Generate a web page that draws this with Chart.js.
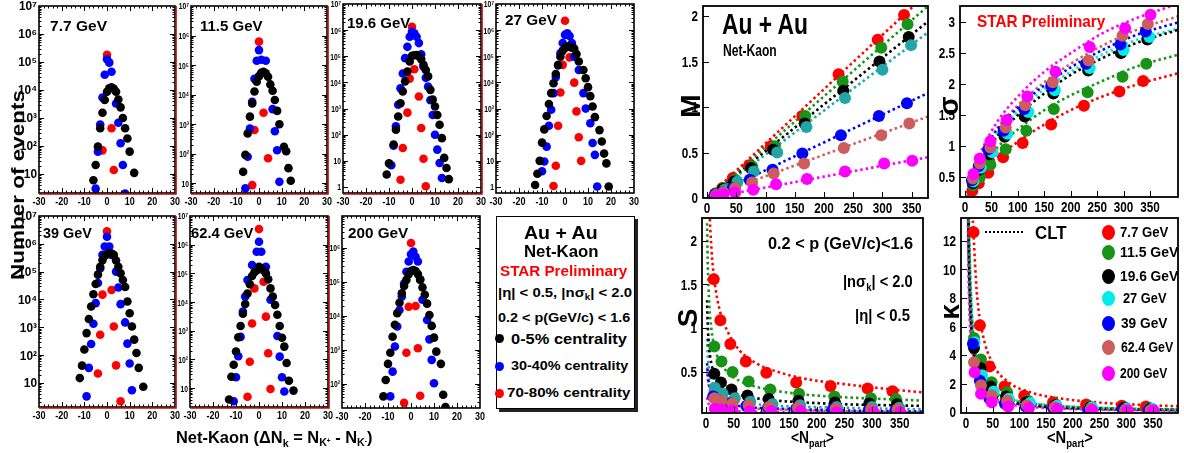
<!DOCTYPE html>
<html><head><meta charset="utf-8">
<script src="https://cdn.jsdelivr.net/npm/chart.js@4.4.1/dist/chart.umd.min.js"></script>
<style>
html,body{margin:0;padding:0;background:#fff;}
#wrap{position:relative;width:1184px;height:453px;overflow:hidden;background:#fff;font-family:'Liberation Sans',Arial,Helvetica,sans-serif;}
.pc{position:absolute;}
.t{position:absolute;white-space:nowrap;font-weight:bold;color:#000;line-height:1;}
.t sub{font-size:65%;vertical-align:-0.35em;line-height:0;}
.t sup{font-size:60%;vertical-align:0.5em;line-height:0;}
.dot{position:absolute;border-radius:50%;}
#lbox{position:absolute;left:496px;top:216px;width:137px;height:191px;border:1.5px solid #000;box-shadow:3px 3px 0 #222;background:#fff;}
</style></head><body><div id="wrap"><div id="lbox"></div></div>
<script>
// ---------------- labels / categories ----------------
const energies = ['7.7 GeV','11.5 GeV','19.6 GeV','27 GeV','39 GeV','62.4 GeV','200 GeV'];
const centralities = ['0-5% centrality','30-40% centrality','70-80% centrality'];
const distTicksX = [-30,-20,-10,0,10,20,30];
const logTicks = [1,10,100,1e3,1e4,1e5,1e6,1e7];
const npartTicks = [0,50,100,150,200,250,300,350];
const mTicks = [0,0.5,1,1.5,2];
const sigmaTicks = [0.5,1,1.5,2,2.5,3];
const sTicks = [0.5,1,1.5,2];
const kTicks = [0,2,4,6,8,10,12];

// ---------------- net-kaon distributions: [ΔN_k, events] ----------------
const nk77_c0 = [[-6,6],[-5,21],[-4,95],[-3,430],[-2,1550],[-1,4400],[0,8700],[1,11500],[2,12500],[3,11000],[4,8700],[5,4600],[6,2400],[7,1000],[8,430],[9,185],[10,63],[12,11]];
const nk77_c30 = [[-5,3],[-4,63],[-3,590],[-2,5400],[-1,35000],[0,125000],[1,95000],[2,45000],[4,3300],[5,680],[6,125],[7,21],[8,2]];
const nk77_c70 = [[-2,70],[0,180000],[2,430],[3,14]];

const nk115_c0 = [[-7,24],[-6,90],[-5,480],[-4,1780],[-3,5000],[-2,12600],[-1,27000],[0,42000],[1,55000],[2,59000],[3,52000],[4,40000],[5,22000],[6,13500],[7,6500],[8,2800],[9,980],[11,170],[12,120],[13,32],[14,12]];
const nk115_c30 = [[-6,6.6],[-5,78],[-4,700],[-3,5700],[-2,34000],[-1,140000],[0,320000],[1,150000],[3,140000],[6,3200],[7,570],[8,130],[9,11]];
const nk115_c70 = [[-3,8.5],[-2,630],[0,620000],[2,2400],[4,69]];

const nk196_c0 = [[-11,3],[-10,8],[-8,42],[-7,155],[-6,500],[-5,1600],[-4,4500],[-3,11000],[-2,26000],[-1,63000],[0,105000],[1,110000],[2,112000],[3,100000],[4,78000],[5,47000],[6,30000],[7,17000],[8,5200],[9,2200],[10,1200],[11,570],[12,240],[13,74],[14,13],[15,5.3],[16,2]];
const nk196_c30 = [[-9,6.8],[-8,38],[-7,210],[-6,1400],[-5,6000],[-4,22000],[-3,85000],[-2,230000],[-1,560000],[0,870000],[1,750000],[2,560000],[3,320000],[4,120000],[5,40000],[6,15000],[7,6900],[8,2100],[9,570],[10,100],[11,27],[12,8.3],[13,2.2]];
const nk196_c70 = [[-5,1.9],[-4,31],[-2,700],[-1,14000],[0,1350000],[1,32000],[3,2900],[4,180],[5,12],[6,1.07]];

const nk27_c0 = [[-13,1.2],[-12,3.2],[-11,10],[-10,50],[-9,160],[-8,520],[-7,1500],[-6,3900],[-5,9300],[-4,21000],[-3,46000],[-2,97000],[-1,165000],[0,210000],[1,235000],[2,230000],[3,215000],[4,200000],[5,123000],[6,63000],[8,30000],[9,14500],[10,6600],[11,3000],[12,1200],[13,470],[15,150],[16,55],[17,19],[18,8],[19,1.05]];
const nk27_c30 = [[-10,4],[-9,9.4],[-8,35],[-7,220],[-6,900],[-5,3900],[-4,16000],[-3,46000],[-2,130000],[-1,320000],[0,660000],[1,760000],[2,600000],[3,320000],[4,97000],[6,30000],[8,3900],[9,1000],[11,275],[12,48],[13,17],[14,1.05]];
const nk27_c70 = [[-5,1.1],[-4,6.5],[-3,220],[-2,4100],[-1,47000],[0,2300000],[2,91000],[4,9800],[5,780],[6,80],[7,10]];

const nk39_c0 = [[-12,15],[-11,42],[-10,160],[-9,620],[-8,2000],[-7,5600],[-6,15500],[-5,36000],[-4,78000],[-3,150000],[-2,260000],[-1,370000],[0,420000],[1,460000],[2,450000],[3,400000],[4,250000],[5,150000],[6,87000],[7,50000],[8,28000],[9,8500],[10,3200],[11,1070],[12,360],[13,120],[14,35],[16,7.3]];
const nk39_c30 = [[-9,3.3],[-8,35],[-7,250],[-6,1350],[-5,7400],[-4,39000],[-3,130000],[-2,400000],[-1,800000],[0,1800000],[1,800000],[2,400000],[4,100000],[5,27000],[6,6800],[8,1500],[9,260],[10,50],[11,5.5]];
const nk39_c70 = [[-4,22],[-3,540],[-2,15000],[0,2800000],[2,22000],[3,1070],[4,43],[6,2.2]];

const nk624_c0 = [[-13,4],[-12,25],[-11,65],[-10,190],[-9,590],[-8,1470],[-7,3900],[-6,8600],[-5,20000],[-4,42000],[-3,81000],[-2,110000],[-1,130000],[0,170000],[1,150000],[2,130000],[3,100000],[4,62000],[5,30000],[6,15500],[7,7900],[8,3600],[9,1470],[10,570],[11,280],[12,75],[13,18],[15,8.2]];
const nk624_c30 = [[-11,3.5],[-10,24],[-9,130],[-8,610],[-7,4700],[-6,15500],[-5,59000],[-3,195000],[-1,570000],[0,1260000],[1,570000],[3,170000],[5,12000],[8,660],[9,125],[10,24],[11,7.6]];
const nk624_c70 = [[-5,5],[-4,83],[-3,1800],[-2,30000],[0,3500000],[2,51000],[3,3100],[4,165],[5,9.3]];

const nk200_c0 = [[-12,43],[-11,130],[-10,390],[-9,830],[-8,2450],[-7,5500],[-6,12000],[-5,24500],[-4,46000],[-3,76000],[-2,115000],[-1,170000],[0,210000],[1,225000],[2,210000],[3,170000],[4,115000],[5,69000],[6,42000],[7,23000],[8,10700],[9,5100],[10,2300],[11,890],[13,390],[14,48],[15,21]];
const nk200_c30 = [[-9,43],[-8,230],[-7,1260],[-6,4900],[-5,15000],[-4,37000],[-3,90000],[-2,200000],[-1,400000],[0,650000],[1,780000],[2,550000],[3,400000],[4,120000],[5,30000],[7,7600],[8,2050],[9,510],[10,105]];
const nk200_c70 = [[-3,28],[-2,830],[-1,18600],[0,1400000],[2,19500],[3,1120],[4,45]];

// ---------------- moments vs <Npart> (central -> peripheral), energy order as in `energies` ----------------
const npart = [
  [337,292,225,163,109,72,44,26,14],
  [343,298,232,168,116,77,48,28,15],
  [345,295,233,167,113,75,46,27,15],
  [349,300,236,170,120,80,52,30,16],
  [342,294,229,163,112,73,44,26,13],
  [346,298,234,166,114,77,48,28,15],
  [351,303,236,171,118,79,48,28,16]
];
const meanM = [
  [2.01,1.74,1.36,0.90,0.57,0.36,0.22,0.11,0.05],
  [1.91,1.65,1.28,0.90,0.57,0.35,0.20,0.11,0.05],
  [1.77,1.50,1.18,0.82,0.53,0.33,0.18,0.10,0.04],
  [1.68,1.41,1.10,0.78,0.50,0.29,0.18,0.09,0.04],
  [1.04,0.90,0.69,0.49,0.31,0.20,0.11,0.06,0.03],
  [0.82,0.69,0.55,0.38,0.27,0.17,0.11,0.06,0.03],
  [0.41,0.38,0.29,0.21,0.15,0.09,0.06,0.04,0.02]
];
const sigmaV = [
  [2.05,1.88,1.65,1.35,1.05,0.82,0.57,0.40,0.28],
  [2.33,2.12,1.87,1.60,1.25,0.95,0.70,0.50,0.37],
  [2.72,2.50,2.22,1.85,1.48,1.15,0.87,0.62,0.40],
  [2.76,2.55,2.26,1.90,1.55,1.20,0.90,0.65,0.43],
  [2.85,2.64,2.33,1.97,1.60,1.25,0.95,0.68,0.45],
  [2.97,2.78,2.38,2.03,1.66,1.30,0.98,0.72,0.48],
  [3.12,2.90,2.60,2.20,1.80,1.42,1.08,0.80,0.55]
];
const skewS = [
  [0.28,0.31,0.34,0.38,0.49,0.62,0.82,1.09,1.56],
  [0.19,0.20,0.22,0.25,0.30,0.39,0.50,0.62,0.79],
  [0.13,0.14,0.15,0.17,0.19,0.23,0.30,0.38,0.48],
  [0.09,0.10,0.10,0.12,0.13,0.16,0.20,0.25,0.32],
  [0.06,0.06,0.07,0.08,0.09,0.11,0.14,0.17,0.22],
  [0.07,0.07,0.08,0.09,0.10,0.12,0.14,0.17,0.20],
  [0.04,0.04,0.04,0.05,0.05,0.05,0.06,0.07,0.08]
];
const kurtK = [
  [0.40,0.45,0.55,0.70,1.15,1.80,3.20,6.10,12.6],
  [0.30,0.33,0.40,0.55,0.80,1.40,2.10,3.70,5.20],
  [0.25,0.30,0.35,0.50,0.70,1.10,1.80,3.10,4.50],
  [0.25,0.25,0.35,0.45,0.65,0.95,1.45,2.60,4.90],
  [0.15,0.15,0.10,0.30,0.40,0.60,0.95,2.20,4.80],
  [0.15,0.15,0.25,0.35,0.50,0.80,1.20,1.90,3.50],
  [0.15,0.15,0.15,0.25,0.30,0.40,0.70,1.30,2.80]
];

// ---------------- CLT dotted curves ----------------
const fitMX = [3,380];
const fitMY = [[0.02,2.27],[0.02,2.12],[0.02,1.95],[0.01,1.83],[0.01,1.16],[0.01,0.90],[0.0,0.45]];
const fitSigX = [2,10,30,60,100,150,200,260,320,405];
const fitSigY = [
  [0.10,0.25,0.55,0.82,1.07,1.35,1.58,1.80,1.98,2.18],
  [0.12,0.30,0.65,0.97,1.27,1.58,1.82,2.05,2.27,2.48],
  [0.14,0.35,0.75,1.15,1.50,1.85,2.15,2.42,2.65,2.88],
  [0.15,0.37,0.78,1.20,1.56,1.92,2.20,2.48,2.70,2.90],
  [0.16,0.38,0.82,1.25,1.62,1.98,2.27,2.55,2.78,3.00],
  [0.16,0.40,0.85,1.28,1.66,2.03,2.33,2.62,2.86,3.10],
  [0.17,0.42,0.90,1.38,1.80,2.20,2.50,2.82,3.05,3.30]
];
const fitSX = [2,3,6,10,15,25,40,60,90,130,180,250,320,400];
const fitSY = [
  [4.2,3.5,2.45,1.9,1.56,1.2,0.95,0.75,0.6,0.5,0.42,0.36,0.31,0.26],
  [2.2,1.8,1.27,0.98,0.79,0.62,0.49,0.40,0.33,0.28,0.24,0.21,0.19,0.17],
  [1.32,1.07,0.76,0.59,0.48,0.37,0.29,0.24,0.20,0.17,0.15,0.13,0.12,0.11],
  [0.88,0.72,0.50,0.39,0.32,0.25,0.20,0.16,0.13,0.11,0.10,0.09,0.08,0.07],
  [0.60,0.49,0.35,0.27,0.22,0.17,0.14,0.11,0.09,0.08,0.07,0.06,0.05,0.05],
  [0.55,0.45,0.31,0.25,0.20,0.16,0.13,0.10,0.08,0.07,0.06,0.05,0.045,0.04],
  [0.21,0.17,0.12,0.10,0.08,0.065,0.055,0.05,0.045,0.04,0.04,0.035,0.035,0.03]
];
const fitKX = [3,5,7,10,14,20,30,50,80,120,180,260,340,400];
const fitKY = [
  [55,33,24,16.5,12.6,8.5,5.7,3.4,2.1,1.4,0.95,0.65,0.5,0.42],
  [25,15,10.7,7.5,5.3,3.7,2.5,1.5,0.95,0.63,0.42,0.30,0.23,0.2],
  [21,12.6,9,6.3,4.5,3.15,2.1,1.26,0.8,0.53,0.35,0.25,0.2,0.17],
  [26,15.6,11,7.8,5.6,3.9,2.6,1.56,0.98,0.65,0.44,0.3,0.24,0.2],
  [19,11.6,8.3,5.8,4.1,2.9,1.9,1.16,0.73,0.48,0.32,0.22,0.17,0.15],
  [18,10.6,7.6,5.3,3.8,2.65,1.77,1.06,0.66,0.44,0.29,0.2,0.16,0.13],
  [15,9,6.4,4.5,3.2,2.25,1.5,0.9,0.56,0.38,0.25,0.17,0.13,0.11]
];

// ---------------- styling ----------------
const FONT = "'Liberation Sans', Arial, Helvetica, sans-serif";
const centColors = ['#000000','#0000ff','#ff0000'];
const colA = ['#ff0000','#179417','#000000','#20a6a6','#0000ff','#cd5c5c','#ff00ff'];
const colB = ['#ff0000','#179417','#000000','#00ecec','#0000ff','#cd5c5c','#ff00ff'];

Chart.defaults.animation = false;
Chart.defaults.font.family = FONT;
Chart.defaults.color = '#000';

const supDigits = {'0':'⁰','1':'¹','2':'²','3':'³','4':'⁴','5':'⁵','6':'⁶','7':'⁷','8':'⁸','9':'⁹'};
function logLabel(v) {
  const e = Math.round(Math.log10(v));
  if (e === 0) return '1';
  if (e === 1) return '10';
  return '10' + String(e).split('').map(c => supDigits[c]).join('');
}

// frame, inner ticks and horizontally condensed tick labels
const frameTicks = {
  id: 'frameTicks',
  afterDatasetsDraw(chart, args, o) {
    if (!o || !o.on) return;
    const {ctx, chartArea: a} = chart;
    const xs = chart.scales.x, ys = chart.scales.y;
    ctx.save();
    ctx.strokeStyle = '#000';
    ctx.lineWidth = 1;
    ctx.beginPath();
    const doX = (vals, len) => (vals || []).forEach(v => {
      const p = Math.round(xs.getPixelForValue(v)) + 0.5;
      if (p < a.left + 1 || p > a.right - 1) return;
      ctx.moveTo(p, a.bottom); ctx.lineTo(p, a.bottom - len);
      if (o.mirror) { ctx.moveTo(p, a.top); ctx.lineTo(p, a.top + len); }
    });
    const doY = (vals, len) => (vals || []).forEach(v => {
      const p = Math.round(ys.getPixelForValue(v)) + 0.5;
      if (p < a.top + 1 || p > a.bottom - 1) return;
      ctx.moveTo(a.left, p); ctx.lineTo(a.left + len, p);
      if (o.mirror) { ctx.moveTo(a.right, p); ctx.lineTo(a.right - len, p); }
    });
    doX(o.xMaj, o.maj); doX(o.xMin, o.min); doY(o.yMaj, o.maj); doY(o.yMin, o.min);
    ctx.stroke();
    ctx.lineWidth = o.fw || 1.6;
    ctx.strokeRect(a.left, a.top, a.right - a.left, a.bottom - a.top);
    if (o.red) {
      ctx.strokeStyle = '#cc0000'; ctx.lineWidth = 1.2;
      ctx.beginPath();
      ctx.moveTo(a.right + 1.2, a.top); ctx.lineTo(a.right + 1.2, a.bottom + 1.2); ctx.lineTo(a.left, a.bottom + 1.2);
      ctx.stroke();
    }
    // condensed labels
    ctx.fillStyle = '#000';
    if (o.xLab) {
      const L = o.xLab;
      ctx.font = 'bold ' + L.size + 'px ' + FONT;
      ctx.textAlign = 'center'; ctx.textBaseline = 'top';
      L.vals.forEach(v => {
        const p = xs.getPixelForValue(v);
        ctx.save(); ctx.translate(p, a.bottom + L.pad); ctx.scale(L.sx, 1);
        ctx.fillText(L.fmt(v), 0, 0); ctx.restore();
      });
    }
    if (o.yLab) {
      const L = o.yLab;
      ctx.font = 'bold ' + L.size + 'px ' + FONT;
      ctx.textAlign = 'right'; ctx.textBaseline = 'middle';
      L.vals.forEach(v => {
        if (v < ys.min - 1e-9 || v > ys.max + 1e-9) return;
        const p = ys.getPixelForValue(v);
        ctx.save(); ctx.translate(a.left - L.pad, p + 1); ctx.scale(L.sx, 1);
        ctx.fillText(L.fmt(v), 0, 0); ctx.restore();
      });
    }
    ctx.restore();
  }
};
Chart.register(frameTicks);

const wrap = document.getElementById('wrap');

function addChart(box, yW, xH, padT, padR, config) {
  const [l, t, r, b] = box;
  const div = document.createElement('div');
  div.className = 'pc';
  div.style.left = (l - yW) + 'px';
  div.style.top = (t - padT) + 'px';
  div.style.width = ((r - l) + yW + padR) + 'px';
  div.style.height = ((b - t) + xH + padT) + 'px';
  const cv = document.createElement('canvas');
  div.appendChild(cv);
  wrap.appendChild(div);
  const o = config.options;
  o.responsive = true;
  o.maintainAspectRatio = false;
  o.animation = false;
  o.events = [];
  o.layout = {padding: {top: padT, right: padR, left: 0, bottom: 0}};
  o.scales.x.afterFit = s => { s.height = xH; };
  o.scales.y.afterFit = s => { s.width = yW; };
  return new Chart(cv, config);
}

function addText(html, x, y, o = {}) {
  const el = document.createElement('div');
  el.className = 't';
  el.innerHTML = html;
  el.style.fontSize = (o.size || 12) + 'px';
  if (o.color) el.style.color = o.color;
  wrap.appendChild(el);
  const w = el.offsetWidth, h = el.offsetHeight;
  const sx = o.width ? o.width / w : 1;
  if (o.rotate) {
    el.style.left = (x - w / 2) + 'px';
    el.style.top = (y - h / 2) + 'px';
    el.style.transformOrigin = '50% 50%';
    el.style.transform = 'rotate(-90deg) scaleX(' + sx + ')';
  } else {
    const fw = w * sx;
    const left = o.align === 'left' ? x : o.align === 'right' ? x - fw : x - fw / 2;
    el.style.left = left + 'px';
    el.style.top = (y - h / 2) + 'px';
    el.style.transformOrigin = '0 0';
    el.style.transform = 'scaleX(' + sx + ')';
  }
  return el;
}

function addDot(x, y, w, h, color) {
  const d = document.createElement('div');
  d.className = 'dot';
  d.style.left = (x - w / 2) + 'px'; d.style.top = (y - h / 2) + 'px';
  d.style.width = w + 'px'; d.style.height = h + 'px';
  d.style.background = color;
  wrap.appendChild(d);
}

const hiddenScale = (extra) => Object.assign({
  ticks: {display: false}, grid: {display: false, drawTicks: false}, border: {display: false}
}, extra);

// ---------------- distribution panels ----------------
const xMinorDist = [];
for (let v = -28; v <= 28; v += 2) if (v % 10 !== 0) xMinorDist.push(v);
const logMinor = [];
for (let d = 0; d < 7; d++) for (let m = 2; m <= 9; m++) logMinor.push(m * Math.pow(10, d));

const distPanels = [
  {name: energies[0], c: [nk77_c0, nk77_c30, nk77_c70], box: [39,6,175,193], ymin: 2.1, ymax: 1e7, yW: 39, yFont: 12.5, ysx: 0.95, red: true},
  {name: energies[1], c: [nk115_c0, nk115_c30, nk115_c70], box: [191,6,327,193], ymin: 4.6, ymax: 1e7, yW: 22, yFont: 9, ysx: 0.75, red: true},
  {name: energies[2], c: [nk196_c0, nk196_c30, nk196_c70], box: [343,4,481,193], ymin: 0.59, ymax: 1e7, yW: 22, yFont: 9, ysx: 0.75, red: true},
  {name: energies[3], c: [nk27_c0, nk27_c30, nk27_c70], box: [496,4,634,193], ymin: 0.59, ymax: 1e7, yW: 22, yFont: 9, ysx: 0.75, red: false},
  {name: energies[4], c: [nk39_c0, nk39_c30, nk39_c70], box: [39,216,175,407], ymin: 1.37, ymax: 1e7, yW: 39, yFont: 12.5, ysx: 0.95, red: true},
  {name: energies[5], c: [nk624_c0, nk624_c30, nk624_c70], box: [190,216,328,407], ymin: 2.2, ymax: 1e7, yW: 22, yFont: 9, ysx: 0.75, red: true},
  {name: energies[6], c: [nk200_c0, nk200_c30, nk200_c70], box: [342,216,480,408], ymin: 19.6, ymax: 8.7e6, yW: 22, yFont: 9, ysx: 0.75, red: false}
];

distPanels.forEach(p => {
  const datasets = p.c.map((arr, i) => ({
    label: centralities[i],
    data: arr.map(([x, y]) => ({x, y})),
    backgroundColor: centColors[i], borderColor: centColors[i],
    pointRadius: 4.3, pointBorderWidth: 0, pointHoverRadius: 0,
    order: i + 1
  }));
  addChart(p.box, p.yW, 18, 8, 9, {
    type: 'scatter',
    data: {datasets},
    options: {
      scales: {
        x: hiddenScale({type: 'linear', min: -30, max: 30}),
        y: hiddenScale({type: 'logarithmic', min: p.ymin, max: p.ymax})
      },
      plugins: {legend: {display: false}, tooltip: {enabled: false},
        frameTicks: {on: true, xMaj: distTicksX, xMin: xMinorDist, yMaj: logTicks, yMin: logMinor, maj: 5, min: 2.5, mirror: true, fw: 1.6, red: p.red,
          xLab: {vals: distTicksX, fmt: v => String(v), size: 10, sx: 0.9, pad: 4},
          yLab: {vals: logTicks, fmt: logLabel, size: p.yFont, sx: p.ysx, pad: 2}}}
    }
  });
});

// ---------------- moment panels ----------------
function momentPanel(p) {
  const datasets = [];
  energies.forEach((e, i) => {
    datasets.push({
      label: e,
      data: npart[i].map((x, j) => ({x, y: p.vals[i][j]})),
      backgroundColor: p.colors[i], borderColor: p.colors[i],
      pointRadius: 6, pointBorderWidth: 0, pointHoverRadius: 0,
      order: 7 - i
    });
    datasets.push({
      label: e + ' CLT',
      data: p.fitX.map((x, j) => ({x, y: p.fitY[i][j]})),
      showLine: true, borderColor: p.colors[i], backgroundColor: p.colors[i],
      borderWidth: 2.6, borderDash: [2.5, 3], pointRadius: 0, pointHoverRadius: 0,
      cubicInterpolationMode: 'monotone', order: 20
    });
  });
  addChart(p.box, 34, 24, 8, 10, {
    type: 'scatter',
    data: {datasets},
    options: {
      scales: {
        x: hiddenScale({type: 'linear', min: p.xr[0], max: p.xr[1]}),
        y: hiddenScale({type: 'linear', min: p.yr[0], max: p.yr[1]})
      },
      plugins: {legend: {display: false}, tooltip: {enabled: false},
        frameTicks: {on: true, xMaj: npartTicks, yMaj: p.yTicks, maj: 6, min: 3, mirror: false, fw: 1.8,
          xLab: {vals: npartTicks, fmt: v => String(v), size: 15, sx: 0.78, pad: 3},
          yLab: {vals: p.yTicks, fmt: v => String(v), size: 15, sx: 0.78, pad: 5}}}
    }
  });
}

momentPanel({box: [703,6,928,198], xr: [-7,378], yr: [0,2.11], yTicks: mTicks, vals: meanM, fitX: fitMX, fitY: fitMY, colors: colA});
momentPanel({box: [960,6,1178,197], xr: [-9.5,403], yr: [0.18,3.26], yTicks: sigmaTicks, vals: sigmaV, fitX: fitSigX, fitY: fitSigY, colors: colB});
momentPanel({box: [702,218,923,413], xr: [-7.2,392], yr: [0.03,2.26], yTicks: sTicks, vals: skewS, fitX: fitSX, fitY: fitSY, colors: colA});
momentPanel({box: [961,218,1178,413], xr: [-9.4,397], yr: [-0.05,13.6], yTicks: kTicks, vals: kurtK, fitX: fitKX, fitY: fitKY, colors: colB});

// ---------------- texts ----------------
const panelLabelPos = [[50,25,57],[200,25,63],[347,22,63],[505,19,52],[43,232,49],[191,232,62],[348,232,60]];
distPanels.forEach((p, i) => {
  const [x, y, w] = panelLabelPos[i];
  addText(p.name, x, y, {size: 15, align: 'left', width: w});
});
addText('Number of events', 18, 185, {size: 18, rotate: true, width: 190});
addText('Net-Kaon (ΔN<sub>k</sub> = N<sub>K<sup>+</sup></sub> - N<sub>K<sup>-</sup></sub>)', 274, 437, {size: 17, width: 196});

// legend box
addText('Au + Au', 561, 232, {size: 19, width: 74});
addText('Net-Kaon', 561, 251, {size: 17, width: 75});
addText('STAR Preliminary', 563, 271, {size: 14, color: '#ff0000', width: 127});
addText('|η| &lt; 0.5, |nσ<sub>k</sub>| &lt; 2.0', 565, 292, {size: 13, width: 134});
addText('0.2 &lt; p(GeV/c) &lt; 1.6', 564, 317, {size: 13, width: 132});
const legY = [338, 366, 393];
centralities.forEach((c, i) => {
  addDot(499, legY[i], 9, 9, centColors[i]);
  addText(c, i === 2 ? 507 : 511, legY[i], {size: i === 0 ? 15 : 13.5, align: 'left', width: i === 0 ? 116 : (i === 1 ? 117 : 123)});
});

// right side annotations
addText('Au + Au', 765, 24, {size: 30, width: 86});
addText('Net-Kaon', 750, 50, {size: 17, width: 54});
addText('STAR Preliminary', 1041, 21, {size: 17, color: '#ff0000', width: 128});
addText('0.2 &lt; p (GeV/c)&lt;1.6', 913, 243, {size: 17, align: 'right', width: 145});
addText('|nσ<sub>k</sub>| &lt; 2.0', 913, 281, {size: 17, align: 'right', width: 70});
addText('|η| &lt; 0.5', 910, 315, {size: 17, align: 'right', width: 55});

addText('M', 690, 106, {size: 28, rotate: true});
addText('σ', 948, 106, {size: 28, rotate: true});
addText('S', 688, 318, {size: 28, rotate: true});
addText('κ', 950, 312, {size: 28, rotate: true});
addText('&lt;N<sub>part</sub>&gt;', 812, 438, {size: 16, width: 43});
addText('&lt;N<sub>part</sub>&gt;', 1070, 438, {size: 16, width: 46});

// kurtosis legend
const clt = document.createElement('div');
clt.style.cssText = 'position:absolute;left:985px;top:231px;width:38px;height:0;border-top:2.6px dotted #000;';
wrap.appendChild(clt);
addText('CLT', 1035, 232, {size: 19, align: 'left', width: 32});
const kLegY = [232, 252, 276, 298, 323, 347, 373];
const kLegTextX = [1120, 1120, 1120, 1123, 1121, 1121, 1120];
const kLegW = [48, 58, 58, 43, 46, 52, 47];
energies.forEach((e, i) => {
  addDot(1108, kLegY[i], 13, 15, colB[i]);
  addText(e, kLegTextX[i], kLegY[i], {size: 14, align: 'left', width: kLegW[i]});
});
</script></body></html>
